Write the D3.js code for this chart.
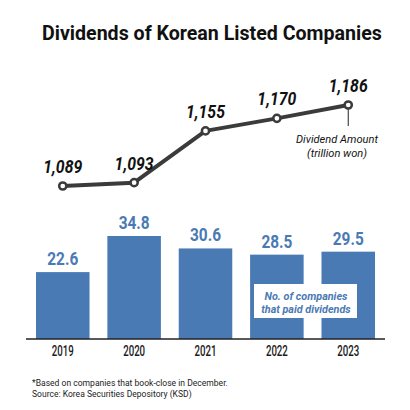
<!DOCTYPE html>
<html>
<head>
<meta charset="utf-8">
<script src="https://cdn.jsdelivr.net/npm/d3@7"></script>
<style>
  body { margin: 0; background: #fff; }
  svg { display: block; font-family: Roboto, "DejaVu Sans Condensed", sans-serif; }
</style>
</head>
<body>
<svg id="chart" width="410" height="410"></svg>
<script>
'use strict';

// data
const years = ['2019', '2020', '2021', '2022', '2023'];
const companies = [22.6, 34.8, 30.6, 28.5, 29.5];
const amounts = [1089, 1093, 1155, 1170, 1186];
const amountLabels = ['1,089', '1,093', '1,155', '1,170', '1,186'];
const footnotes = [
    '*Based on companies that book-close in December.',
    'Source: Korea Securities Depository (KSD)'
];

const blue = '#4a7ab4';
const dark = '#3b3b3b';

const svg = d3.select('#chart');

// squeeze text horizontally around its x anchor (the original uses a condensed face)
function squeeze(sel, f) {
    sel.each(function() {
        const ax = +this.getAttribute('x');
        this.setAttribute('transform', `translate(${ax},0) scale(${f},1) translate(${-ax},0)`);
    });
}
function fitTo(sel, width) {
    sel.each(function() {
        const w = this.getComputedTextLength();
        squeeze(d3.select(this), width / w);
    });
}

// title
const title = svg.append('text')
    .attr('x', 42).attr('y', 40)
    .attr('font-size', 20.5).attr('font-weight', 'bold').attr('fill', '#111')
    .text('Dividends of Korean Listed Companies');
fitTo(title, 340);

// scales
const x = d3.scaleBand()
    .domain(years)
    .range([26, 385])
    .paddingInner(0.25)
    .paddingOuter(0.14);

const yBar = d3.scaleLinear()
    .domain([0, 40])
    .range([339, 220.6]);

const yLine = d3.scaleLinear()
    .domain([1089, 1186])
    .range([186, 105]);

const cx = (d, i) => x(years[i]) + x.bandwidth() / 2;

// bars
svg.append('g').selectAll('rect')
    .data(companies)
    .join('rect')
    .attr('x', (d, i) => x(years[i]))
    .attr('y', d => yBar(d))
    .attr('width', x.bandwidth())
    .attr('height', d => yBar(0) - yBar(d))
    .attr('fill', blue);

const barLabels = svg.append('g').selectAll('text')
    .data(companies)
    .join('text')
    .attr('x', cx)
    .attr('y', d => yBar(d) - 7)
    .attr('text-anchor', 'middle')
    .attr('font-size', 18.5).attr('font-weight', 'bold')
    .attr('fill', blue)
    .text(d => d.toFixed(1));
squeeze(barLabels, 31 / barLabels.node().getComputedTextLength());

// x axis
const xAxis = svg.append('g')
    .attr('transform', `translate(0,${yBar(0)})`)
    .attr('font-size', null).attr('font-family', null)
    .call(d3.axisBottom(x).tickSize(0).tickPadding(7));
xAxis.select('.domain').attr('d', 'M26,0H385').attr('stroke', '#222').attr('stroke-width', 1.5);
xAxis.selectAll('text')
    .attr('font-size', 14).attr('fill', '#1a1a1a')
    .attr('font-weight', 500)
    .attr('font-family', 'Roboto, sans-serif');
squeeze(xAxis.selectAll('text'), 22 / xAxis.select('text').node().getComputedTextLength());

// legend box for bars
const legend = svg.append('g');
legend.append('rect')
    .attr('x', 254).attr('y', 284).attr('width', 103).attr('height', 34)
    .attr('fill', '#fff');
const legendText = legend.selectAll('text')
    .data(['No. of companies', 'that paid dividends'])
    .join('text')
    .attr('x', 306).attr('y', (d, i) => 300 + i * 13)
    .attr('text-anchor', 'middle')
    .attr('font-size', 11.5).attr('font-weight', 'bold').attr('font-style', 'italic')
    .attr('fill', blue)
    .text(d => d);
squeeze(legendText, 83 / legendText.node().getComputedTextLength());

// line
const line = d3.line()
    .x(cx)
    .y(d => yLine(d));

svg.append('path')
    .datum(amounts)
    .attr('d', line)
    .attr('fill', 'none')
    .attr('stroke', dark)
    .attr('stroke-width', 4)
    .attr('stroke-linejoin', 'round');

// annotation for the line
const lastX = cx(amounts[4], 4);
svg.append('line')
    .attr('x1', lastX).attr('x2', lastX)
    .attr('y1', yLine(amounts[4])).attr('y2', 126)
    .attr('stroke', '#222').attr('stroke-width', 1);
const note = svg.append('g').selectAll('text')
    .data(['Dividend Amount', '(trillion won)'])
    .join('text')
    .attr('x', 337).attr('y', (d, i) => 143 + i * 14)
    .attr('text-anchor', 'middle')
    .attr('font-size', 11).attr('font-style', 'italic')
    .attr('fill', '#111')
    .text(d => d);
squeeze(note, 82 / note.node().getComputedTextLength());

svg.append('g').selectAll('circle')
    .data(amounts)
    .join('circle')
    .attr('cx', cx)
    .attr('cy', d => yLine(d))
    .attr('r', 3.6)
    .attr('fill', '#fff')
    .attr('stroke', dark)
    .attr('stroke-width', 2.5);

const valueLabels = svg.append('g').selectAll('text')
    .data(amounts)
    .join('text')
    .attr('x', cx)
    .attr('y', d => yLine(d) - 13)
    .attr('text-anchor', 'middle')
    .attr('font-size', 18.5).attr('font-weight', 'bold').attr('font-style', 'italic')
    .attr('fill', '#111')
    .text((d, i) => amountLabels[i]);
squeeze(valueLabels, 39 / valueLabels.node().getComputedTextLength());

// footnotes
const foot = svg.append('g').selectAll('text')
    .data(footnotes)
    .join('text')
    .attr('x', 32).attr('y', (d, i) => 386 + i * 11.5)
    .attr('font-size', 9.5)
    .attr('fill', '#222')
    .text(d => d);
squeeze(foot, 196 / foot.node().getComputedTextLength());
</script>
</body>
</html>
